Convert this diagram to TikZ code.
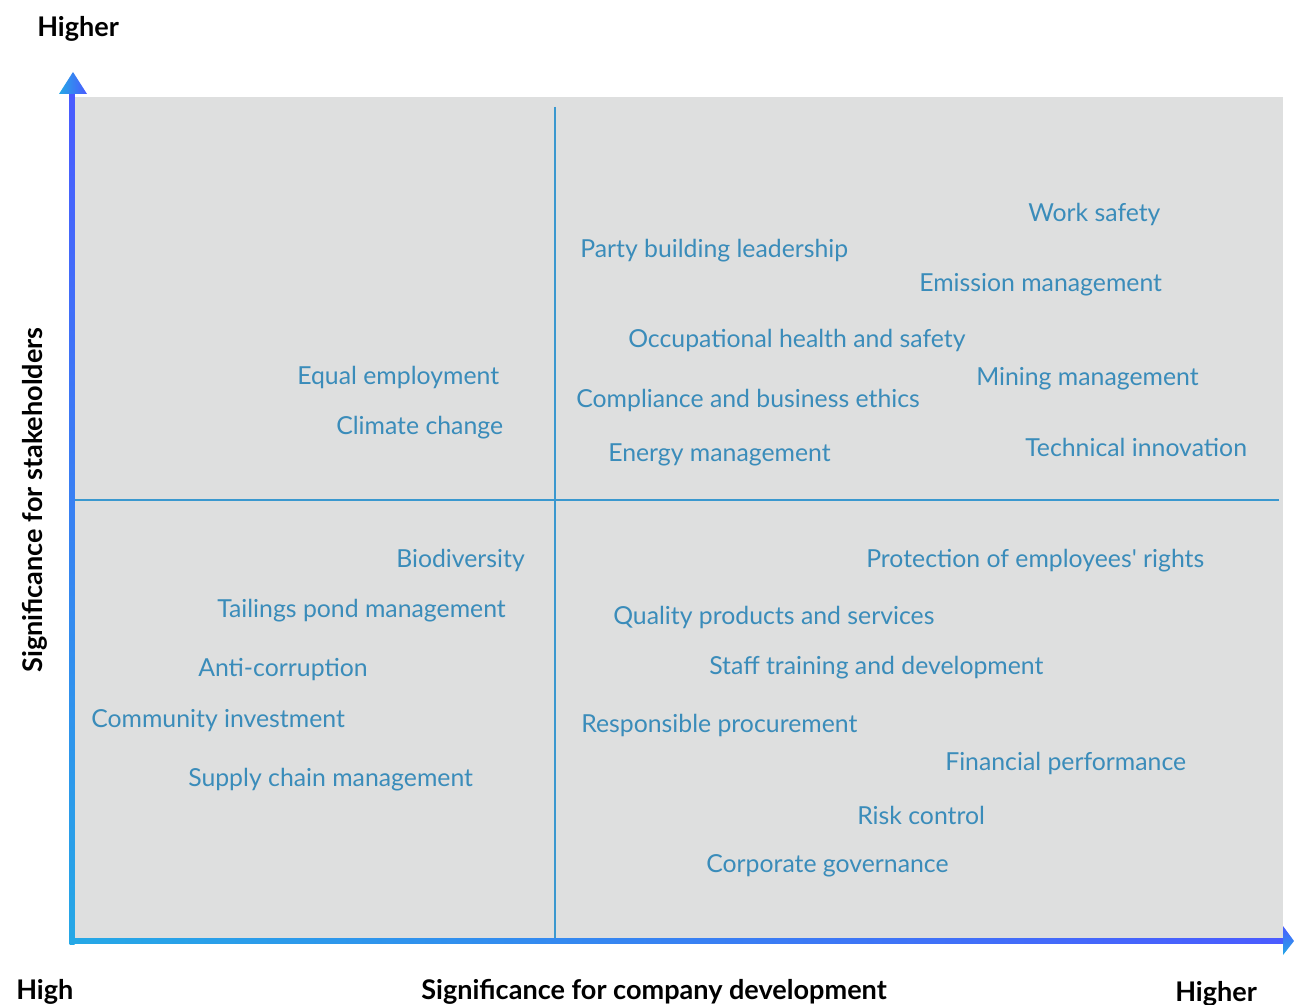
\documentclass[tikz,border=0pt]{standalone}
\usepackage{fontspec}
\setmainfont{Lato}
\definecolor{panel}{HTML}{DEDFDF}
\definecolor{divider}{HTML}{3A98CF}
\definecolor{topic}{HTML}{3A8CBA}
\definecolor{axisblue}{HTML}{4A5BFF}
\definecolor{axiscyan}{HTML}{25A8E6}
\begin{document}
\begin{tikzpicture}[x=0.75pt,y=-0.75pt,
  topiclabel/.style={anchor=west,inner sep=0pt,yshift=-1.5pt,text=topic,font=\fontsize{18.6}{22}\selectfont},
  axislabel/.style={inner sep=0pt,text=black,font=\bfseries\fontsize{20.3}{24}\selectfont}]
\useasboundingbox (0,0) rectangle (1294,1005);
% matrix background
\fill[panel] (72,97) rectangle (1283,940);
% quadrant dividers
\draw[divider,line width=1.5pt] (555,107) -- (555,940);
\draw[divider,line width=1.5pt] (72,500) -- (1279,500);
% vertical axis with gradient
\shade[top color=axisblue,bottom color=axiscyan] (69.5,93) rectangle (74.5,944);
\shade[left color=axiscyan,right color=axisblue] (59,94) -- (73,72) -- (87,94) -- cycle;
% horizontal axis with gradient
\shade[left color=axiscyan,right color=axisblue] (69.5,938.5) rectangle (1284,943.5);
\shade[top color=axisblue,bottom color=axiscyan] (1283,926) -- (1294,941) -- (1283,955) -- cycle;
% axis labels
\node[axislabel,anchor=west] (yhi) at (37,29) {Higher};
\node[axislabel,anchor=west] (xlo) at (16,992) {High};
\node[axislabel] (xname) at (654,992) {Significance for company development};
\node[axislabel,anchor=west] (xhi) at (1175,994) {Higher};
\node[axislabel,rotate=90] (yname) at (35,500) {Significance for stakeholders};
% upper-left quadrant
\node[topiclabel] (t1) at (297,375) {Equal employment};
\node[topiclabel] (t2) at (336,426) {Climate change};
% upper-right quadrant
\node[topiclabel] (t3) at (1028,212) {Work safety};
\node[topiclabel] (t4) at (580,249) {Party building leadership};
\node[topiclabel] (t5) at (919,283) {Emission management};
\node[topiclabel] (t6) at (628,338) {Occupational health and safety};
\node[topiclabel] (t7) at (976,377) {Mining management};
\node[topiclabel] (t8) at (576,398) {Compliance and business ethics};
\node[topiclabel] (t9) at (1025,445) {Technical innovation};
\node[topiclabel] (t10) at (608,453) {Energy management};
% lower-left quadrant
\node[topiclabel] (t11) at (396,558) {Biodiversity};
\node[topiclabel] (t12) at (217,609) {Tailings pond management};
\node[topiclabel] (t13) at (198,668) {Anti-corruption};
\node[topiclabel] (t14) at (91,719) {Community investment};
\node[topiclabel] (t15) at (188,778) {Supply chain management};
% lower-right quadrant
\node[topiclabel] (t16) at (866,559) {Protection of employees\textquotesingle\ rights};
\node[topiclabel] (t17) at (613,615) {Quality products and services};
\node[topiclabel] (t18) at (709,666) {Staff training and development};
\node[topiclabel] (t19) at (581,723) {Responsible procurement};
\node[topiclabel] (t20) at (945,761) {Financial performance};
\node[topiclabel] (t21) at (857,813) {Risk control};
\node[topiclabel] (t22) at (706,864) {Corporate governance};
\end{tikzpicture}
\end{document}
